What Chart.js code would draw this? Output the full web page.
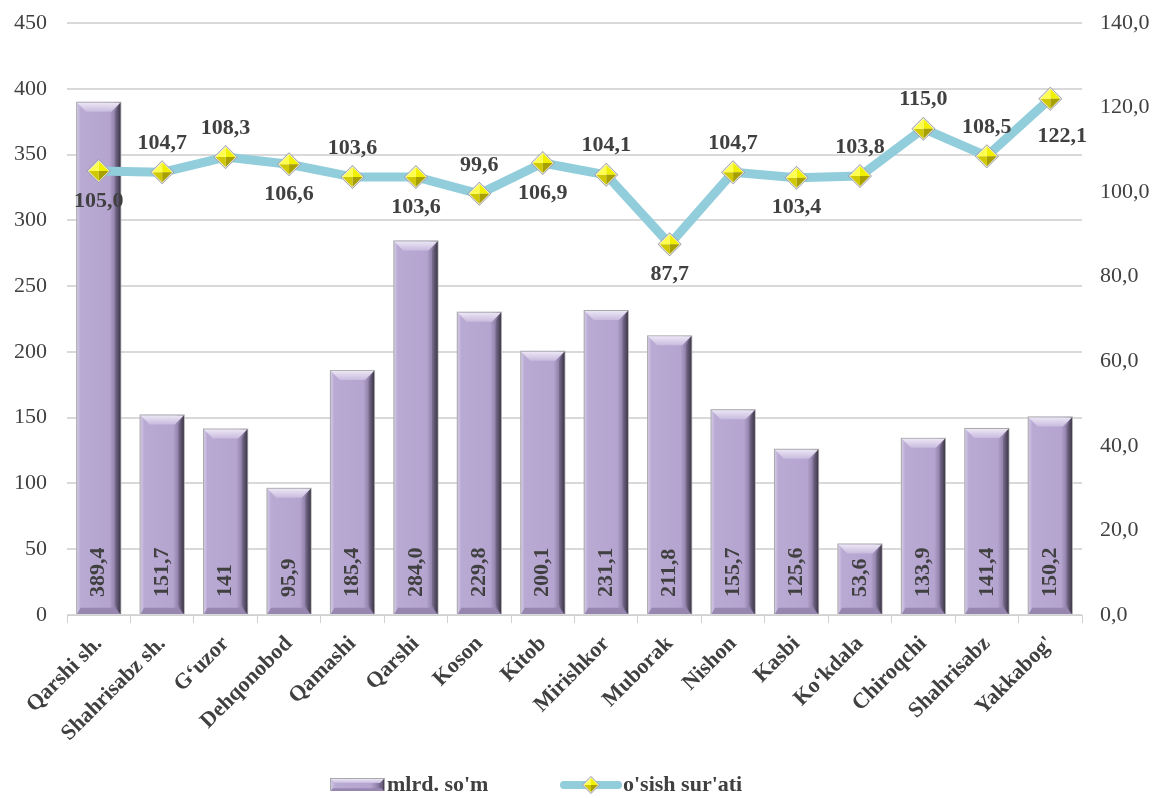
<!DOCTYPE html>
<html><head><meta charset="utf-8">
<script src="https://cdn.jsdelivr.net/npm/chart.js@4/dist/chart.umd.min.js"></script>
<style>html,body{margin:0;padding:0;background:#fff}#wrap{width:1157px;height:798px}</style>
</head><body><div id="wrap"><canvas id="c" width="1157" height="798"></canvas></div>
<script>
const categories = ["Qarshi sh.","Shahrisabz sh.","G\u2018uzor","Dehqonobod","Qamashi","Qarshi","Koson","Kitob","Mirishkor","Muborak","Nishon","Kasbi","Ko\u2018kdala","Chiroqchi","Shahrisabz","Yakkabog'"];
const barValues = [389.4,151.7,141,95.9,185.4,284.0,229.8,200.1,231.1,211.8,155.7,125.6,53.6,133.9,141.4,150.2];
const barLabels = ["389,4","151,7","141","95,9","185,4","284,0","229,8","200,1","231,1","211,8","155,7","125,6","53,6","133,9","141,4","150,2"];
const growthValues = [105.0,104.7,108.3,106.6,103.6,103.6,99.6,106.9,104.1,87.7,104.7,103.4,103.8,115.0,108.5,122.1];
const growthLabels = ["105,0","104,7","108,3","106,6","103,6","103,6","99,6","106,9","104,1","87,7","104,7","103,4","103,8","115,0","108,5","122,1"];
const growthLabelPos = ["below","above","above","below","above","below","above","below","above","below","above","below","above","above","above","belowright"];
const seriesNames = ["mlrd. so'm","o'sish sur'ati"];

const FONT = "'Liberation Serif','Times New Roman',serif";
const TXT = "#404040";

function drawDiamond(ctx,x,y,r){
  ctx.save();
  ctx.beginPath();
  ctx.moveTo(x,y-r-2);ctx.lineTo(x+r+2,y);ctx.lineTo(x,y+r+2);ctx.lineTo(x-r-2,y);ctx.closePath();
  ctx.fillStyle="#9a9a9a";ctx.fill();
  ctx.beginPath();
  ctx.moveTo(x,y-r-1);ctx.lineTo(x+r+1,y);ctx.lineTo(x,y+r+1);ctx.lineTo(x-r-1,y);ctx.closePath();
  ctx.fillStyle="#f0f0f0";ctx.fill();
  const facets=[
    [[x,y-r],[x+r,y],[x,y],"#f0f000"],
    [[x+r,y],[x,y+r],[x,y],"#a8a000"],
    [[x,y+r],[x-r,y],[x,y],"#d0c800"],
    [[x-r,y],[x,y-r],[x,y],"#ffff50"]];
  for(const f of facets){
    ctx.beginPath();ctx.moveTo(f[0][0],f[0][1]);ctx.lineTo(f[1][0],f[1][1]);ctx.lineTo(f[2][0],f[2][1]);ctx.closePath();
    ctx.fillStyle=f[3];ctx.fill();
  }
  ctx.restore();
}

function drawBar(ctx,l,t,w,h){
  const r=l+w,b=t+h;
  ctx.save();
  ctx.fillStyle="#a9a9a9";ctx.fillRect(l-1,t-1,w+2,h+1);
  const g=ctx.createLinearGradient(l,0,r,0);
  g.addColorStop(0,"#d2c8e4");g.addColorStop(0.08,"#b9aad4");g.addColorStop(0.75,"#b4a4cf");g.addColorStop(0.88,"#8f80a8");g.addColorStop(1,"#4f465e");
  ctx.fillStyle=g;ctx.fillRect(l,t,w,h);
  const bv=Math.min(9,h/3);
  ctx.beginPath();ctx.moveTo(l,t);ctx.lineTo(r,t);ctx.lineTo(r-bv,t+bv);ctx.lineTo(l+bv,t+bv);ctx.closePath();
  const tg=ctx.createLinearGradient(0,t,0,t+bv);tg.addColorStop(0,"#ece6f4");tg.addColorStop(1,"#c8bbdf");
  ctx.fillStyle=tg;ctx.fill();
  ctx.beginPath();ctx.moveTo(r,t);ctx.lineTo(r,b);ctx.lineTo(r-bv*0.6,b-bv);ctx.lineTo(r-bv*0.6,t+bv);ctx.closePath();
  const rg=ctx.createLinearGradient(r-bv*0.6,0,r,0);rg.addColorStop(0,"#7c6e92");rg.addColorStop(1,"#3f3849");
  ctx.fillStyle=rg;ctx.fill();
  ctx.beginPath();ctx.moveTo(l,b);ctx.lineTo(r,b);ctx.lineTo(r-bv*0.6,b-bv*0.7);ctx.lineTo(l+bv*0.4,b-bv*0.7);ctx.closePath();
  ctx.fillStyle="#9686b0";ctx.fill();
  ctx.restore();
}

const decor = {
  id:'decor',
  afterDatasetDraw(chart,args){
    if(args.index!==0) return;
    const ctx=chart.ctx;
    const meta=chart.getDatasetMeta(0);
    meta.data.forEach((bar,i)=>{
      const p=bar.getProps(['x','y','base','width'],true);
      drawBar(ctx,p.x-p.width/2,p.y,p.width,p.base-p.y);
      ctx.save();
      ctx.translate(p.x,p.base-17);
      ctx.rotate(-Math.PI/2);
      ctx.font="bold 22px "+FONT;
      ctx.fillStyle=TXT;ctx.textAlign="left";ctx.textBaseline="middle";
      ctx.fillText(barLabels[i],0,0);
      ctx.restore();
    });
  },
  afterDatasetsDraw(chart){
    const ctx=chart.ctx;
    const meta=chart.getDatasetMeta(1);
    meta.data.forEach(pt=>drawDiamond(ctx,pt.x,pt.y,10));
    ctx.save();
    ctx.font="bold 22px "+FONT;ctx.fillStyle=TXT;ctx.textAlign="center";ctx.textBaseline="middle";
    meta.data.forEach((pt,i)=>{
      const pos=growthLabelPos[i];
      let x=pt.x,y=pt.y;
      if(pos==="above") y-=29;
      else if(pos==="below") y+=30;
      else {x+=12;y+=38;}
      ctx.fillText(growthLabels[i],x,y);
    });
    ctx.restore();
  },
  afterDraw(chart){
    const ctx=chart.ctx;
    const y=785;
    ctx.save();
    drawBar(ctx,331,y-6,53,12);
    ctx.font="bold 22px "+FONT;ctx.fillStyle=TXT;ctx.textAlign="left";ctx.textBaseline="middle";
    ctx.fillText(seriesNames[0],387,y);
    ctx.strokeStyle="#92cddc";ctx.lineWidth=8;ctx.lineCap="round";
    ctx.beginPath();ctx.moveTo(564,y);ctx.lineTo(618,y);ctx.stroke();
    drawDiamond(ctx,591,y,7);
    ctx.fillText(seriesNames[1],623,y);
    ctx.restore();
  }
};

const ctx=document.getElementById('c').getContext('2d');
new Chart(ctx,{
  data:{
    labels:categories,
    datasets:[
      {type:'bar',label:seriesNames[0],data:barValues,yAxisID:'y',order:1,
       backgroundColor:'rgba(0,0,0,0)',borderWidth:0,barPercentage:0.68,categoryPercentage:1.0},
      {type:'line',label:seriesNames[1],data:growthValues,yAxisID:'y2',order:0,
       borderColor:'#92cddc',borderWidth:9,pointRadius:0,pointHoverRadius:0,tension:0,borderJoinStyle:'round',borderCapStyle:'round'}
    ]
  },
  options:{
    responsive:false,animation:false,
    layout:{padding:{left:0,right:0,top:23,bottom:0}},
    plugins:{tooltip:{enabled:false},legend:{display:false}},
    scales:{
      x:{
        afterFit(s){s.height=183;},
        grid:{display:true,drawOnChartArea:false,drawTicks:true,tickLength:8,color:'#d0d0d0',offset:true},
        border:{display:true,color:'#d0d0d0',width:1},
        ticks:{color:TXT,font:{family:FONT,size:22,weight:'bold'},maxRotation:45,minRotation:45,padding:8,autoSkip:false}
      },
      y:{
        position:'left',min:0,max:450,
        afterFit(s){s.width=67;s.paddingTop=0;s.paddingBottom=0;},
        ticks:{stepSize:50,color:TXT,font:{family:FONT,size:22},padding:20},
        grid:{color:'#d9d9d9',lineWidth:2,drawTicks:false},
        border:{display:false}
      },
      y2:{
        position:'right',min:0,max:140,
        afterFit(s){s.width=75;s.paddingTop=0;s.paddingBottom=0;},
        ticks:{stepSize:20,color:TXT,font:{family:FONT,size:22},padding:18,
          callback:v=>v.toFixed(1).replace('.',',')},
        grid:{display:false,drawTicks:false},
        border:{display:false}
      }
    }
  },
  plugins:[decor]
});
</script>
</body></html>
